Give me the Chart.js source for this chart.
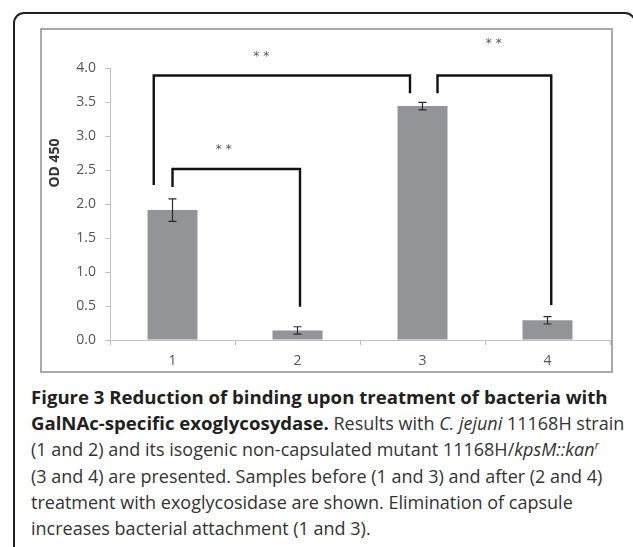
<!DOCTYPE html>
<html>
<head>
<meta charset="utf-8">
<script src="https://cdn.jsdelivr.net/npm/chart.js@4.4.1/dist/chart.umd.min.js"></script>
<style>
body { margin: 0; background: #fff; width: 633px; height: 547px; overflow: hidden; position: relative; font-family: "Open Sans", sans-serif; }
#frame { position: absolute; left: 13px; top: 12px; width: 623px; height: 600px; border: 2px solid #231f20; border-radius: 11px; box-sizing: border-box; }
#box { position: absolute; left: 40px; top: 28px; width: 573px; height: 345px; border: 2px solid #a9a9a9; box-sizing: border-box; }
#odChart { position: absolute; left: 42px; top: 30px; }
#cap { position: absolute; left: 31px; top: 384px; width: 610px; font-size: 18px; line-height: 26.2px; color: #333; }
#cap div { white-space: nowrap; }
#cap b { color: #231f20; font-size: 18.6px; }
#cap sup { font-size: 11px; line-height: 0; }
</style>
</head>
<body>
<div id="frame"></div>
<div id="box"></div>
<canvas id="odChart" width="569" height="341"></canvas>
<div id="cap">
  <div><b>Figure 3 Reduction of binding upon treatment of bacteria with</b></div>
  <div><b>GalNAc-specific exoglycosydase.</b> Results with <i>C. jejuni</i> 11168H strain</div>
  <div>(1 and 2) and its isogenic non-capsulated mutant 11168H/<i>kpsM::kan<sup>r</sup></i></div>
  <div>(3 and 4) are presented. Samples before (1 and 3) and after (2 and 4)</div>
  <div>treatment with exoglycosidase are shown. Elimination of capsule</div>
  <div>increases bacterial attachment (1 and 3).</div>
</div>
<script>
const categories = ['1', '2', '3', '4'];
const odValues = [1.91, 0.14, 3.44, 0.29];
const odErrors = [0.165, 0.055, 0.055, 0.055];

// y axis range and step
const yMin = 0;
const yMax = 4;
const yStep = 0.5;

// significance brackets (x in category index units, y in OD)
const bracket13 = [{x: -0.15, y: 2.28}, {x: -0.15, y: 3.89}, {x: 1.90, y: 3.89}, {x: 1.90, y: 3.63}];
const bracket12 = [{x: 0.0, y: 2.25}, {x: 0.0, y: 2.515}, {x: 1.02, y: 2.515}, {x: 1.02, y: 0.49}];
const bracket34 = [{x: 2.12, y: 3.63}, {x: 2.12, y: 3.89}, {x: 3.03, y: 3.89}, {x: 3.03, y: 0.515}];
const starMarks = [{x: 0.71, y: 4.16}, {x: 0.41, y: 2.79}, {x: 2.57, y: 4.36}];

function bracketSet(points) {
  return {
    type: 'line',
    xAxisID: 'xb',
    data: points,
    borderColor: '#111',
    borderWidth: 2.4,
    pointRadius: 0,
    tension: 0,
    borderJoinStyle: 'miter',
    order: 0
  };
}

const extras = {
  id: 'extras',
  afterDatasetsDraw(chart) {
    const ctx = chart.ctx;
    const x = chart.scales.x;
    const y = chart.scales.y;
    const xb = chart.scales.xb;
    ctx.save();

    // error bars
    ctx.strokeStyle = '#2b2b2b';
    ctx.lineWidth = 1.2;
    odValues.forEach((v, i) => {
      const px = x.getPixelForValue(i);
      const top = y.getPixelForValue(v + odErrors[i]);
      const bot = y.getPixelForValue(v - odErrors[i]);
      ctx.beginPath();
      ctx.moveTo(px, top); ctx.lineTo(px, bot);
      ctx.moveTo(px - 4, top); ctx.lineTo(px + 4, top);
      ctx.moveTo(px - 4, bot); ctx.lineTo(px + 4, bot);
      ctx.stroke();
    });

    // asterisks
    ctx.fillStyle = '#555';
    ctx.font = '12px "DejaVu Sans"';
    ctx.textAlign = 'center';
    ctx.textBaseline = 'middle';
    starMarks.forEach(s => {
      ctx.fillText('* *', xb.getPixelForValue(s.x), y.getPixelForValue(s.y));
    });

    // y axis title
    const a = chart.chartArea;
    ctx.translate(a.left - 55, a.top + 95);
    ctx.rotate(-Math.PI / 2);
    ctx.fillStyle = '#333';
    ctx.font = 'bold 14px "Open Sans"';
    ctx.fillText('OD 450', 0, 0);
    ctx.restore();
  }
};

new Chart(document.getElementById('odChart'), {
  type: 'bar',
  data: {
    labels: categories,
    datasets: [
      {
        data: odValues,
        backgroundColor: '#939497',
        barPercentage: 0.4,
        categoryPercentage: 1,
        grouped: false,
        order: 1
      },
      bracketSet(bracket13),
      bracketSet(bracket12),
      bracketSet(bracket34)
    ]
  },
  options: {
    responsive: false,
    animation: false,
    layout: { padding: { top: 38, right: 1, left: 0, bottom: 0 } },
    plugins: { legend: { display: false }, tooltip: { enabled: false } },
    scales: {
      x: {
        grid: { drawOnChartArea: false, color: '#c0c0c0', tickLength: 5 },
        border: { color: '#c0c0c0' },
        ticks: { color: '#555', font: { family: 'Open Sans', size: 14 }, padding: 8 },
        afterFit: s => { s.height = 31; }
      },
      xb: {
        type: 'linear',
        display: false,
        offset: false,
        grid: { offset: false },
        min: -0.5,
        max: 3.5
      },
      y: {
        min: yMin,
        max: yMax,
        grid: { drawOnChartArea: false, color: '#c0c0c0', tickLength: 5 },
        border: { color: '#c0c0c0' },
        ticks: {
          stepSize: yStep,
          color: '#555',
          font: { family: 'Open Sans', size: 14 },
          padding: 9,
          callback: v => v.toFixed(1)
        },
        afterFit: s => { s.width = 68; }
      }
    }
  },
  plugins: [extras]
});
</script>
</body>
</html>
